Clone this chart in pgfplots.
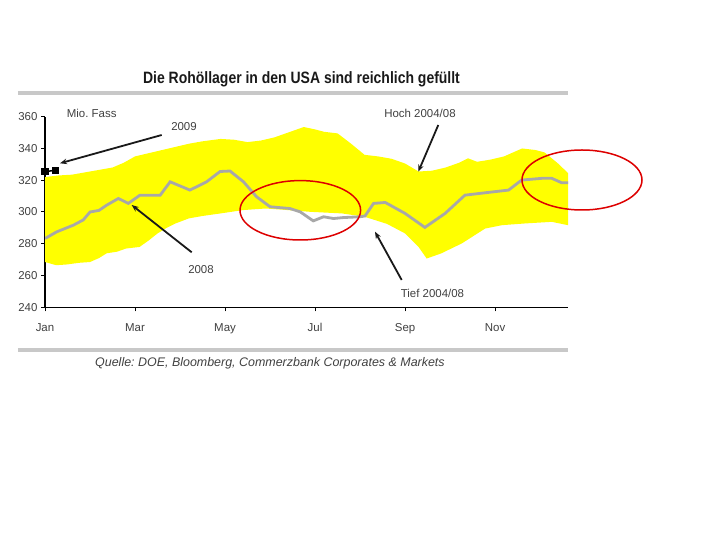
\documentclass[border=0pt]{standalone}
\usepackage{fontspec}
\setmainfont{Liberation Sans}
\newfontfamily\titlefont{Liberation Sans}[FakeStretch=0.85]
\usepackage{pgfplots}
\pgfplotsset{compat=1.18}
\usetikzlibrary{arrows.meta}
\definecolor{band}{HTML}{FFFF00}
\definecolor{line08}{HTML}{A8A8A8}
\definecolor{txt}{HTML}{404040}
\definecolor{rulec}{HTML}{C8C8C8}
\definecolor{ell}{HTML}{DD0000}
\frenchspacing
\begin{document}
\begin{tikzpicture}
\begin{axis}[
  at={(0,0)}, anchor=south west,
  scale only axis, width=523bp, height=190.6bp,
  xmin=0, xmax=11.62, ymin=240, ymax=360,
  axis x line*=bottom, axis y line*=left,
  axis line style={black, line width=1.3bp},
  xtick={0,2,4,6,8,10}, xticklabels={Jan,Mar,May,Jul,Sep,Nov},
  ytick={240,260,...,360},
  tick align=outside, major tick length=4bp,
  tick style={black, line width=1bp},
  ticklabel style={font=\fontsize{11.5}{13}\selectfont, text=txt},
  xticklabel style={text height=8.5bp, text depth=0.5bp, yshift=-8bp},
  /pgf/number format/assume math mode=true,
]
% band: upper edge (Hoch 2004/08) forward, lower edge (Tief 2004/08) backward
\addplot[fill=band, draw=none] coordinates {
(0,322) (0.3,323) (0.6,323.5) (0.9,325) (1.2,326.5) (1.5,328) (1.75,331)
(2.0,335) (2.3,337) (2.6,339) (2.9,341) (3.2,343) (3.5,344.5) (3.9,346)
(4.2,345.5) (4.5,344) (4.8,345) (5.1,347) (5.4,350) (5.75,353.5) (6.0,352)
(6.2,350.5) (6.5,349.5) (6.8,343) (7.1,336) (7.4,335) (7.7,333.5) (8.0,330.5)
(8.3,325.5) (8.6,326) (8.9,328) (9.2,331) (9.4,333.8) (9.6,331.6) (9.9,333)
(10.2,335) (10.6,340) (10.9,339) (11.1,337.5) (11.4,330.5) (11.62,324.5)
(11.62,291.7) (11.26,293.8) (10.67,292.8) (10.15,291.7) (9.78,289.6)
(9.26,280.2) (8.8,273.9) (8.48,270.7) (8.3,278) (8.0,286.5) (7.6,292.5)
(7.1,297) (6.6,299.1) (5.9,300.1) (5.4,301.2) (4.9,302.2) (4.4,301.2)
(3.9,299.1) (3.5,297.5) (3.2,296) (2.9,292.8) (2.7,290) (2.5,286.5)
(2.3,282) (2.1,278) (1.8,277) (1.6,275) (1.37,274) (1.2,271) (1.0,268.5)
(0.75,268) (0.5,267) (0.25,266.5) (0,268.5)
} -- cycle;
\addplot[line08, line width=2.8bp] coordinates {
(0,283.3) (0.26,287.5) (0.63,291.7) (0.85,295) (1.0,300) (1.2,301)
(1.37,304.3) (1.63,308.5) (1.85,305.4) (2.11,310.6) (2.56,310.6) (2.78,319)
(3.22,313.8) (3.59,319) (3.89,325.5) (4.11,325.8) (4.41,319) (4.70,309.6)
(5.0,303.3) (5.44,302.2) (5.67,300.1) (5.96,294.4) (6.19,297) (6.41,295.9)
(6.63,296.5) (7.0,297) (7.11,297.5) (7.30,305.4) (7.56,306) (8.0,299.1)
(8.44,290.3) (8.89,299.1) (9.33,310.6) (9.78,312.1) (10.30,313.8)
(10.59,320.1) (11.04,321.2) (11.26,321.2) (11.48,318.4) (11.62,318.4)
};
\addplot[black, line width=1.5bp, mark=square*, mark size=2.8bp] coordinates {
(0,325.3) (0.24,326.4)
};
\end{axis}
\begin{scope}[x=1bp,y=-1bp,shift={(-45bp,307.3bp)}]
\node[font=\titlefont\bfseries\fontsize{16.5}{18}\selectfont, text=black!90] at (301.5,79) {Die Rohöllager in den USA sind reichlich gefüllt};
\draw[rulec, line width=3.7bp] (18,93.3) -- (568,93.3);
\draw[rulec, line width=4.5bp] (18,349.8) -- (568,349.8);
\node[anchor=west, font=\itshape\fontsize{12.5}{14}\selectfont, text=txt, inner sep=0pt] at (95,363.5) {Quelle: DOE, Bloomberg, Commerzbank Corporates \& Markets};
\begin{scope}[every node/.style={font=\fontsize{11.5}{13}\selectfont, text=txt, inner sep=0pt}]
\node[anchor=west] at (66.7,113.3) {Mio. Fass};
\node at (184,126.7) {2009};
\node at (201,270) {2008};
\node at (420,113.3) {Hoch 2004/08};
\node at (432.5,293.3) {Tief 2004/08};
\end{scope}
\begin{scope}[black!90, line width=1.8bp, -{Stealth[length=7bp,width=5.5bp]}]
\draw (161.7,135) -- (60,163.3);
\draw (191.7,252.3) -- (131.7,205);
\draw (438.3,125) -- (418.3,171.7);
\draw (401.7,280) -- (375,231.7);
\end{scope}
\draw[ell, line width=1.5bp] (300.3,210.3) ellipse [x radius=60.3, y radius=29.7];
\draw[ell, line width=1.5bp] (582,180) ellipse [x radius=60, y radius=30];
\end{scope}
\path[use as bounding box] (-45bp,-232.7bp) rectangle (675bp,307.3bp);
\end{tikzpicture}
\end{document}
